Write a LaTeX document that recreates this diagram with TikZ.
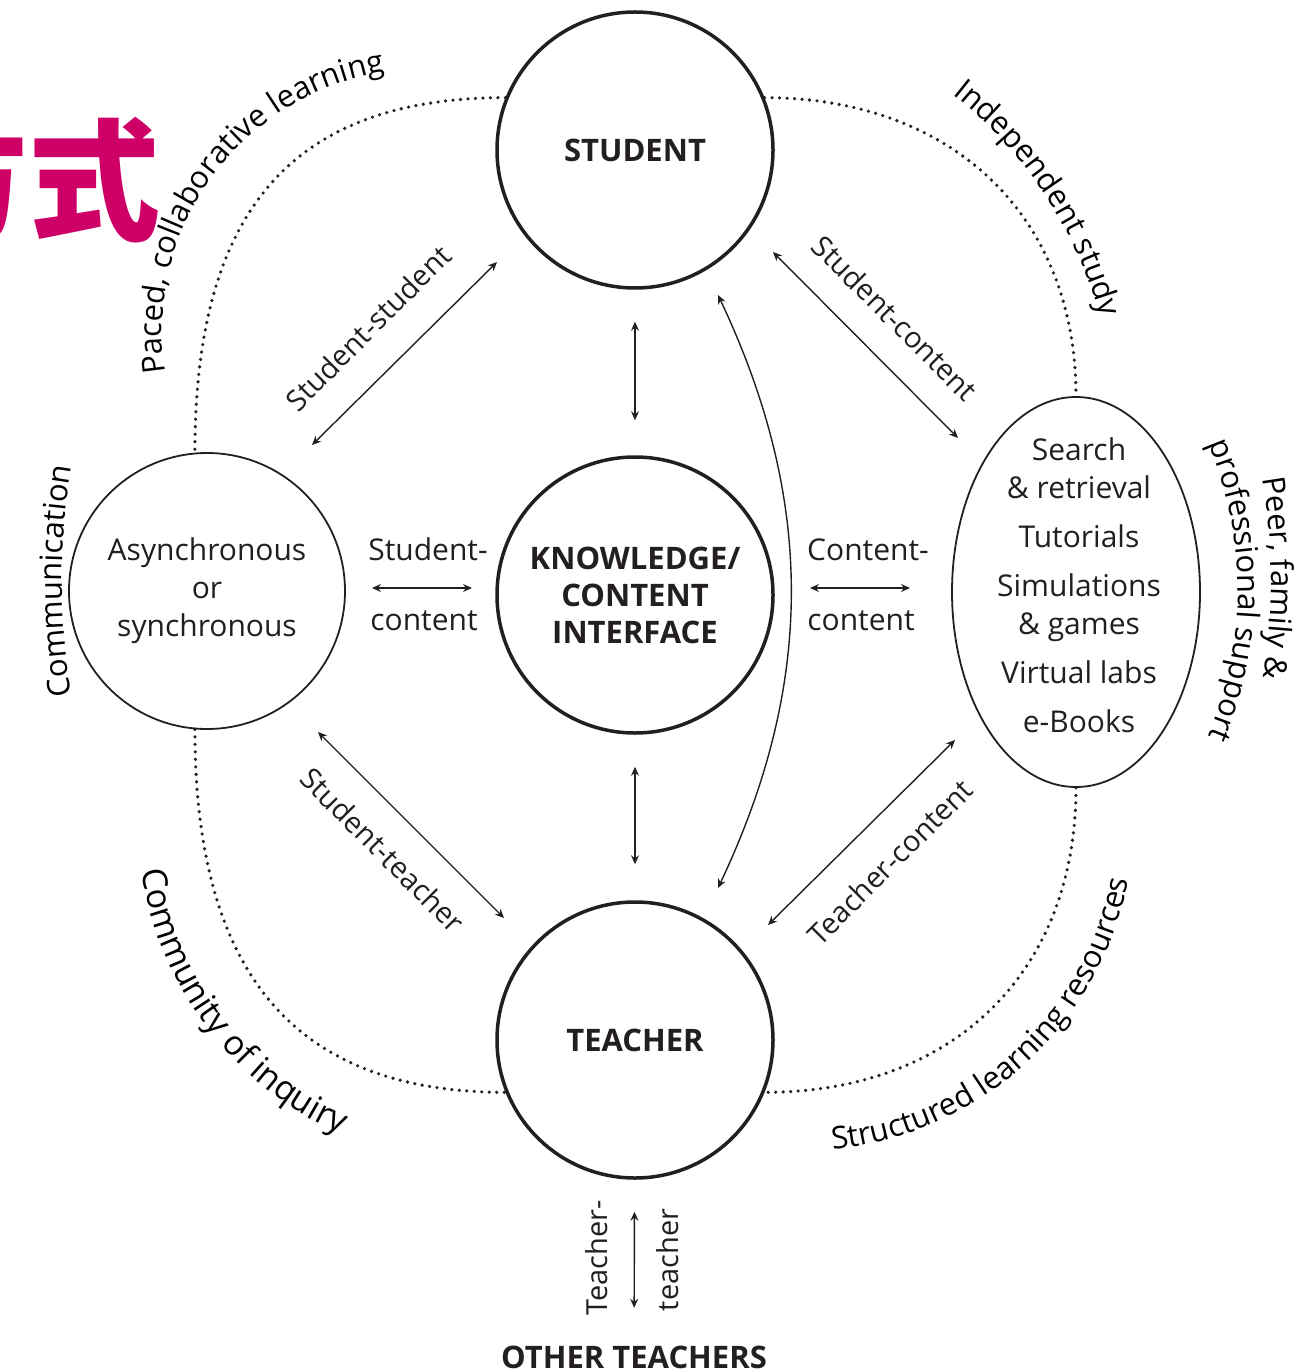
\documentclass[tikz,border=0pt]{standalone}
\usepackage{fontspec}
\setmainfont{Open Sans}
\newfontfamily\cjk{Noto Sans CJK SC}
\usetikzlibrary{arrows.meta,shapes.geometric,decorations.text}
\definecolor{pinkred}{RGB}{206,0,104}
\definecolor{ink}{RGB}{35,31,32}
\newcommand\arcfont{\fontsize{31}{37}\selectfont}
\newcommand\widearcfont{\fontsize{34}{40}\selectfont}

\begin{document}
\begin{tikzpicture}
      [x = 1pt, y = 1pt, line width = 1.5pt, color = ink,
       bigcirc/.style = {draw, circle, minimum size = 276pt, inner sep = 0pt, line width = 3.5pt},
       smallcirc/.style = {draw, circle, minimum size = 276pt, inner sep = 0pt, line width = 1.8pt},
       arr/.style = {{Stealth[length = 9pt, width = 8pt, inset = 3pt]}-{Stealth[length = 9pt, width = 8pt, inset = 3pt]}, line width = 1.4pt},
       dots/.style = {line width = 3.6pt, line cap = round, dash pattern = on 0pt off 7.5pt},
       lbl/.style = {font = \fontsize{30}{38}\selectfont, inner sep = 0pt},
       dlbl/.style = {font = \fontsize{29}{35}\selectfont, inner sep = 0pt},
       caps/.style = {font = \fontsize{31}{37}\selectfont\bfseries, align = center, inner sep = 0pt},
       arctext/.style = {decorate, decoration = {text along path, text align = center, text = {|\arcfont|#1}}},
       widearctext/.style = {decorate, decoration = {text along path, text align = center, text = {|\widearcfont|#1}}}]
      \useasboundingbox (0,0) rectangle (1307,-1372);

      % title
      \node[anchor = base west, inner sep = 0pt, text = pinkred,
        font = \cjk\bfseries\fontsize{132}{132}\selectfont] (title) at (-104,-231) {方式};

      % the three main circles
      \node[bigcirc, caps] (stu) at (635,-150) {STUDENT};
      \node[bigcirc, caps] (know) at (635,-595) {KNOWLEDGE/\\CONTENT\\INTERFACE};
      \node[bigcirc, caps] (tea) at (635,-1040) {TEACHER};

      % side shapes
      \node[smallcirc, lbl, align = center] (async) at (207,-591) {Asynchronous\\or\\synchronous};
      \node[draw, ellipse, minimum width = 248pt, minimum height = 390pt, line width = 1.8pt] (res) at (1076,-592) {};
      \node[lbl, align = center] (reslist) at (1079,-585)
        {Search\\\& retrieval\\[11pt]Tutorials\\[11pt]Simulations\\\& games\\[11pt]Virtual labs\\[11pt]e-Books};
      \node[caps, anchor = base] (other) at (634,-1368) {OTHER TEACHERS};

      % dotted ring
      \draw[dots] (stu.158) .. controls +(-215,0) and +(0,240) .. (async.95);
      \draw[dots] (stu.22) .. controls +(188,0) and +(0,180) .. (res.north);
      \draw[dots] (async.265) .. controls +(0,-245) and +(-210,0) .. (tea.202);
      \draw[dots] (res.south) .. controls +(0,-183) and +(190,0) .. (tea.-22);

      % vertical links
      \draw[arr, shorten <= 32pt, shorten >= 35pt] (stu) -- (know);
      \draw[arr, shorten <= 32pt, shorten >= 36pt] (know) -- (tea);
      \draw[arr, shorten <= 32pt, shorten >= 37pt] (tea) -- (other);

      % free arrows
      \coordinate (ssA) at (312,-445);
      \coordinate (ssB) at (497,-262);
      \coordinate (scA) at (773,-252);
      \coordinate (scB) at (958,-438);
      \coordinate (stA) at (318,-732);
      \coordinate (stB) at (504,-918);
      \coordinate (tcA) at (955,-740);
      \coordinate (tcB) at (768,-925);
      \coordinate (lhA) at (372,-588);
      \coordinate (lhB) at (472,-588);
      \coordinate (rhA) at (810,-588);
      \coordinate (rhB) at (910,-588);
      \coordinate (cvA) at (718,-295);
      \coordinate (cvB) at (718,-888);
      \draw[arr] (ssA) -- (ssB);
      \draw[arr] (scA) -- (scB);
      \draw[arr] (stA) -- (stB);
      \draw[arr] (tcA) -- (tcB);
      \draw[arr] (lhA) -- (lhB);
      \draw[arr] (rhA) -- (rhB);
      \draw[arr] (cvA) .. controls (815,-500) and (815,-683) .. (cvB);

      % link labels
      \node[dlbl, rotate = 45] (ssl) at (368,-328) {Student-student};
      \node[dlbl, rotate = -45] (scl) at (895,-318) {Student-content};
      \node[dlbl, rotate = -45] (stl) at (383,-850) {Student-teacher};
      \node[dlbl, rotate = 45] (tcl) at (890,-862) {Teacher-content};
      \node[lbl, anchor = base] (lh1) at (428,-560) {Student-};
      \node[lbl, anchor = base] (lh2) at (424,-630) {content};
      \node[lbl, anchor = base] (rh1) at (868,-560) {Content-};
      \node[lbl, anchor = base] (rh2) at (861,-630) {content};
      \node[dlbl, rotate = 90] (tt1) at (597,-1258) {Teacher-};
      \node[dlbl, rotate = 90] (tt2) at (668,-1260) {teacher};

      % ring labels
      \path[arctext = {Paced, collaborative learning}]
        ([shift = {(200:263)}]425,-332) arc[start angle = 200, end angle = 87.6, radius = 263];
      \path[arctext = {Independent study}]
        ([shift = {(80:424)}]691,-428) arc[start angle = 80, end angle = -13, radius = 424];
      \path[arctext = {Communication}]
        ([shift = {(195:700)}]762,-581) arc[start angle = 195, end angle = 165, radius = 700];
      \path[arctext = {Peer, family {\&}}]
        ([shift = {(20:600)}]671,-578) arc[start angle = 20, end angle = -20, radius = 600];
      \path[arctext = {professional support}]
        ([shift = {(35:375)}]863,-590) arc[start angle = 35, end angle = -35, radius = 375];
      \path[widearctext = {Community of inquiry}]
        ([shift = {(172:341)}]479.5,-822.5) arc[start angle = 172, end angle = 262, radius = 341];
      \path[arctext = {Structured learning resources}]
        ([shift = {(262.35:332)}]802,-818.7) arc[start angle = 262.35, end angle = 362.35, radius = 332];
    \end{tikzpicture}
\end{document}
